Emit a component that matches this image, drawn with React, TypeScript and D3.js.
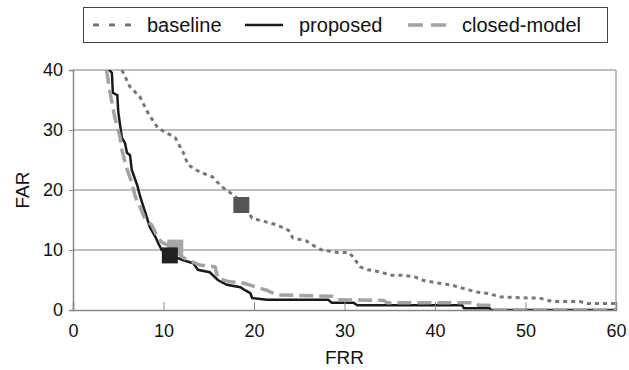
import { useEffect, useRef } from "react";
import * as d3 from "d3";

type Pt = [number, number];

// FRR / FAR pairs
const baseline: Pt[] = [
  [5.4, 40], [6.3, 37.2], [7.4, 35.5], [8.3, 32.8], [9.4, 30.3], [10.4, 29.5], [11.3, 28.7],
  [12.2, 26.2], [12.7, 24.2], [14, 23], [15.4, 22.2], [16.4, 20.6], [17.7, 19.2], [18.7, 17.8],
  [19.8, 15.3], [21, 14.8], [22.5, 14.2], [23.8, 13.3], [24.3, 12], [25.8, 11.5], [26.5, 10.8],
  [27.5, 10], [29.2, 9.6], [30.4, 9.6], [31, 8.8], [31.7, 7.2], [32.6, 6.7], [34.1, 6.3], [35, 5.8],
  [36.5, 5.8], [37.8, 5.5], [38.5, 5], [40.2, 4.5], [41.7, 4.2], [43.1, 3.6], [44.6, 3], [45.7, 2.8],
  [47.2, 2.2], [50.2, 2], [51.5, 2], [53, 1.4], [56, 1.4], [56.8, 1.1], [60, 1.1],
];
const proposed: Pt[] = [
  [3.75, 40.5], [4.3, 39.5], [4.4, 36.2], [4.9, 35.8], [5, 33], [5.4, 28.7], [5.75, 27.8],
  [5.96, 26.2], [6.3, 25.8], [6.5, 23.3], [7.1, 20.8], [7.4, 19], [8, 16.2], [8.5, 13.8], [9.1, 12.2],
  [9.4, 11.2], [9.8, 10], [10.5, 9.3], [12.2, 8.3], [13.3, 7.8], [13.8, 6.7], [15.1, 6.3], [16, 5],
  [17, 4.2], [18.5, 3.8], [19, 3.3], [19.6, 2.8], [19.8, 2], [21.4, 1.7], [28.2, 1.7], [28.6, 1.2],
  [31, 1.2], [31.4, 0.8], [34.7, 0.8], [43, 0.8], [43.2, 0.3], [46, 0.3], [46.2, 0], [60, 0],
];
const closedModel: Pt[] = [
  [3.7, 40], [4.1, 36.2], [4.6, 32.2], [5.2, 28.8], [5.4, 26.7], [5.9, 23.8], [6.5, 21.2], [6.9, 18.8],
  [7.4, 17.2], [8, 15], [8.7, 14.2], [9.3, 12.2], [9.8, 11.3], [11, 10.4], [12.2, 8.7], [14, 7.5],
  [15.7, 7.2], [16, 5.3], [17.3, 4.7], [18.8, 4.5], [20.3, 3.8], [21.4, 3.3], [22.5, 2.5], [28.6, 2.3],
  [29.2, 1.7], [34.3, 1.6], [34.7, 1.2], [44.5, 1.2], [44.8, 0.8], [46.2, 0.8], [46.4, 0], [60, 0],
];

// operating points (squares)
const markers = [
  { name: "baseline", frr: 18.6, far: 17.5, color: "#555555" },
  { name: "closed-model", frr: 11.3, far: 10.4, color: "#a6a6a6" },
  { name: "proposed", frr: 10.7, far: 9.1, color: "#222222" },
];

const xTicks = [0, 10, 20, 30, 40, 50, 60];
const yTicks = [0, 10, 20, 30, 40];

const series = [
  { name: "baseline", data: baseline, color: "#777777", width: 3, dash: "4,4", legendDash: "6,10" },
  { name: "proposed", data: proposed, color: "#1a1a1a", width: 2.5, dash: "", legendDash: "" },
  { name: "closed-model", data: closedModel, color: "#a3a3a3", width: 3.5, dash: "14,6", legendDash: "15,8" },
];

const FONT = "Arial, 'Liberation Sans', Helvetica, sans-serif";

export default function App() {
  const svgRef = useRef<SVGSVGElement>(null);

  useEffect(() => {
    if (!svgRef.current) return;
    const W = 629, H = 370;
    const left = 73, right = 616, top = 70, bottom = 310;

    const svg = d3.select(svgRef.current);
    svg.selectAll("*").remove();
    svg.attr("width", W).attr("height", H).attr("viewBox", `0 0 ${W} ${H}`)
      .attr("font-family", FONT);
    svg.append("rect").attr("width", W).attr("height", H).attr("fill", "#fff");

    const x = d3.scaleLinear().domain([0, 60]).range([left, right]);
    const y = d3.scaleLinear().domain([0, 40]).range([bottom, top]);

    // gridlines
    svg.append("g").selectAll("line").data(yTicks.filter(t => t > 0)).join("line")
      .attr("x1", left).attr("x2", right).attr("y1", d => y(d)).attr("y2", d => y(d))
      .attr("stroke", "#7f7f7f").attr("stroke-width", 1);

    // right border
    svg.append("line").attr("x1", right).attr("x2", right).attr("y1", top).attr("y2", bottom)
      .attr("stroke", "#bdbdbd").attr("stroke-width", 2);

    // clip
    svg.append("defs").append("clipPath").attr("id", "plot")
      .append("rect").attr("x", left).attr("y", top).attr("width", right - left).attr("height", bottom - top);

    const line = d3.line<Pt>().x(d => x(d[0])).y(d => y(d[1]));
    const lines = svg.append("g").attr("clip-path", "url(#plot)");
    series.forEach(s => {
      lines.append("path").datum(s.data).attr("d", line)
        .attr("fill", "none").attr("stroke", s.color).attr("stroke-width", s.width)
        .attr("stroke-dasharray", s.dash || null).attr("stroke-linejoin", "miter");
    });

    // axes
    const xAxis = svg.append("g").attr("transform", `translate(0,${bottom})`)
      .call(d3.axisBottom(x).tickValues(xTicks).tickSize(-8).tickPadding(14).tickFormat(d3.format("d")));
    xAxis.select(".domain").attr("stroke", "#888").attr("stroke-width", 1.5);
    xAxis.selectAll(".tick line").attr("stroke", "#888");
    xAxis.selectAll(".tick text").attr("fill", "#111").attr("font-family", FONT).attr("font-size", 18);

    const yAxis = svg.append("g").attr("transform", `translate(${left},0)`)
      .call(d3.axisLeft(y).tickValues(yTicks).tickSize(4).tickPadding(6).tickFormat(d3.format("d")));
    yAxis.select(".domain").attr("stroke", "#888").attr("stroke-width", 1.5);
    yAxis.selectAll(".tick line").attr("stroke", "#888");
    yAxis.selectAll(".tick text").attr("fill", "#111").attr("font-family", FONT).attr("font-size", 18);

    // markers
    svg.append("g").selectAll("rect").data(markers).join("rect")
      .attr("x", d => x(d.frr) - 8).attr("y", d => y(d.far) - 8)
      .attr("width", 16).attr("height", 16).attr("fill", d => d.color);

    // axis titles
    svg.append("text").attr("x", (left + right) / 2).attr("y", 364).attr("text-anchor", "middle")
      .attr("font-size", 19).attr("fill", "#111").text("FRR");
    svg.append("text").attr("transform", `translate(29,${(top + bottom) / 2}) rotate(-90)`)
      .attr("text-anchor", "middle").attr("font-size", 19)
      .attr("fill", "#111").text("FAR");

    // legend
    const lg = svg.append("g");
    lg.append("rect").attr("x", 83.5).attr("y", 7.5).attr("width", 524).attr("height", 35)
      .attr("fill", "#fff").attr("stroke", "#444").attr("stroke-width", 1);
    const legendX = [93, 245, 408];
    series.forEach((s, i) => {
      const lx = legendX[i];
      lg.append("line").attr("x1", lx).attr("x2", lx + 38).attr("y1", 25).attr("y2", 25)
        .attr("stroke", s.color).attr("stroke-width", s.width)
        .attr("stroke-dasharray", s.legendDash || null);
      lg.append("text").attr("x", lx + 54).attr("y", 32)
        .attr("font-size", 20).attr("fill", "#111").text(s.name);
    });
  }, []);

  return (
    <div style={{ position: "absolute", left: 0, top: 0 }}>
      <svg ref={svgRef} />
    </div>
  );
}
